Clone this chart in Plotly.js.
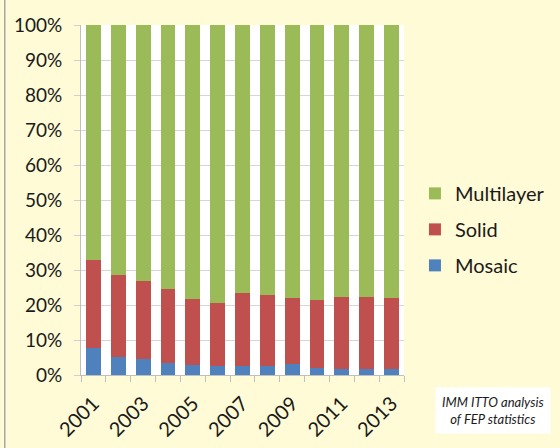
<!DOCTYPE html>
<html>
<head>
<meta charset="utf-8">
<script src="https://cdn.plot.ly/plotly-3.0.1.min.js"></script>
<style>
  html, body { margin: 0; padding: 0; background: #fffbd6; }
  #chart { width: 560px; height: 448px; }
</style>
</head>
<body>
<div id="chart"></div>
<script>
// -- Data (percent shares by year) ---------------------------------------------
const years = [2001, 2002, 2003, 2004, 2005, 2006, 2007, 2008, 2009, 2010, 2011, 2012, 2013];
const mosaic = [7.6, 5.2, 4.7, 3.4, 2.9, 2.6, 2.7, 2.6, 3.1, 2.1, 1.8, 1.6, 1.8];
const solid = [25.3, 23.4, 22.2, 21.3, 18.7, 18.1, 20.6, 20.4, 18.9, 19.3, 20.6, 20.8, 20.1];
const multilayer = [67.1, 71.4, 73.1, 75.3, 78.4, 79.3, 76.7, 77.0, 78.0, 78.6, 77.6, 77.6, 78.1];
const labelYears = [2001, 2003, 2005, 2007, 2009, 2011, 2013];
const yTicks = [0, 10, 20, 30, 40, 50, 60, 70, 80, 90, 100];

// -- Traces --------------------------------------------------------------------
// rank sets legend order top-down: Multilayer, Solid, Mosaic
function barTrace(name, vals, color, rank) {
  return {
    x: years, y: vals,
    type: 'bar',
    name: name,
    legendgroup: name,
    legendrank: rank,
    marker: { color: color, line: { width: 0 } },
    hoverinfo: 'skip',
  };
}

const traces = [
  barTrace('Mosaic', mosaic, '#4f81bd', 3),
  barTrace('Solid', solid, '#c0504d', 2),
  barTrace('Multilayer', multilayer, '#9bbb59', 1),
];

// -- Layout --------------------------------------------------------------------
const layout = {
  width: 560, height: 448,
  paper_bgcolor: '#fffbd6',
  plot_bgcolor: '#ffffff',
  font: { family: 'Lato, "Open Sans", sans-serif', size: 19, color: '#1a1a1a' },
  margin: { l: 81, r: 156, t: 25, b: 73, autoexpand: false },
  barmode: 'stack',
  bargap: 0.4,
  xaxis: {
    range: [2000.5, 2013.5],
    tickvals: labelYears,
    ticktext: labelYears.map(String),
    tickangle: -45,
    tickfont: { size: 20 },
    ticks: '',
    ticklabelstandoff: 8,
    showgrid: false,
    zeroline: false,
    showline: true,
    linecolor: '#bfbfbf',
    linewidth: 1,
    minor: { tick0: 2000.5, dtick: 1, ticks: 'outside', ticklen: 6, tickcolor: '#bfbfbf', showgrid: false },
  },
  yaxis: {
    range: [0, 100],
    tickvals: yTicks,
    ticktext: yTicks.map(v => v + '%'),
    ticks: 'outside',
    ticklen: 6,
    tickcolor: '#d0d0d0',
    ticklabelstandoff: 8,
    gridcolor: '#d6d6d6',
    gridwidth: 1,
    zeroline: false,
    showline: true,
    linecolor: '#bfbfbf',
    linewidth: 1,
  },
  showlegend: true,
  legend: {
    xref: 'container', yref: 'container',
    x: 0.741, xanchor: 'left',
    y: 0.488, yanchor: 'middle',
    traceorder: 'grouped',
    tracegroupgap: 7,
    bgcolor: 'rgba(0,0,0,0)',
    font: { size: 20, color: '#1a1a1a' },
    itemwidth: 30,
  },
  shapes: [{
    type: 'line', xref: 'paper', yref: 'paper',
    x0: -0.236, x1: -0.236, y0: -0.3, y1: 1.1,
    line: { color: '#a6a6a6', width: 1.5 },
  }],
  annotations: [{
    xref: 'paper', yref: 'paper',
    x: 1.277, y: -0.1,
    xanchor: 'center', yanchor: 'middle',
    text: '<i>IMM ITTO analysis<br>of FEP statistics</i>',
    showarrow: false,
    align: 'center',
    bgcolor: '#ffffff',
    borderpad: 6,
    font: { size: 13, color: '#1a1a1a' },
  }],
};

Plotly.newPlot('chart', traces, layout, { displayModeBar: false, staticPlot: true });
</script>
</body>
</html>
